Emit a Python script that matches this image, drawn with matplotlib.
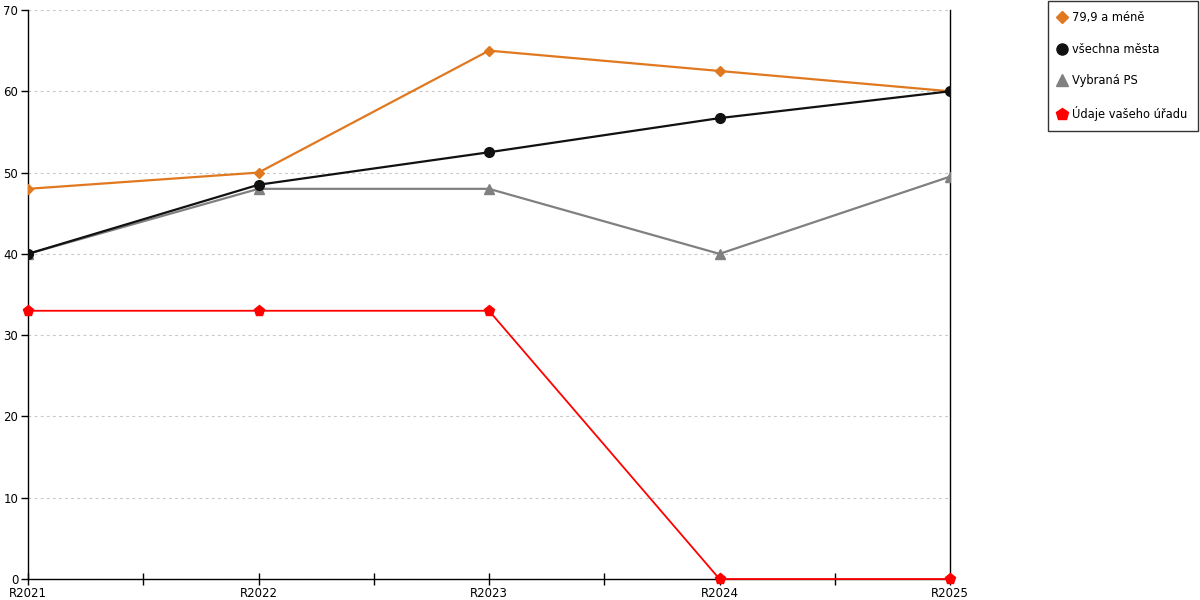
import numpy as np
import matplotlib.pyplot as plt
from matplotlib.lines import Line2D

years = ["R2021", "R2022", "R2023", "R2024", "R2025"]
mene = [48, 50, 65, 62.5, 60]
vsechna = [40, 48.5, 52.5, 56.7, 60]
vybrana = [40, 48, 48, 40, 49.5]
urad = [33, 33, 33, 0, 0]

plt.rcParams['font.family'] = ['DejaVu Sans']

fig = plt.figure(figsize=(12, 6), dpi=100)
ax = fig.add_axes([28 / 1200, 21 / 600, 922 / 1200, 569 / 600])

x = np.arange(len(years))
ax.plot(x, mene, color="#e07820", lw=1.6, marker="D", ms=5.5, label="79,9 a méně", zorder=3)
ax.plot(x, vsechna, color="#111111", lw=1.6, marker="o", ms=7, label="všechna města", zorder=4)
ax.plot(x, vybrana, color="#808080", lw=1.6, marker="^", ms=7, label="Vybraná PS", zorder=3)
ax.plot(x, urad, color="#ff0000", lw=1.3, marker="p", ms=8, label="Údaje vašeho úřadu", zorder=5, clip_on=False)

ax.set_xlim(0, len(years) - 1)
ax.set_ylim(0, 70)
ax.set_yticks(range(0, 71, 10))
ax.set_xticks(x)
ax.set_xticklabels(years)
ax.set_xticks(np.arange(0.5, len(years) - 1, 1), minor=True)
ax.tick_params(axis="x", which="both", direction="inout", length=8, width=1, labelsize=8.5, pad=2)
ax.tick_params(axis="y", direction="out", length=5, width=1, labelsize=8.5, pad=2)
ax.grid(axis="y", color="#c8c8c8", linestyle=(0, (2.5, 3)), lw=0.8)
ax.spines["top"].set_visible(False)
for s in ["left", "right", "bottom"]:
    ax.spines[s].set_color("black")
    ax.spines[s].set_linewidth(1)

handles = [
    Line2D([], [], color="#e07820", marker="D", ms=6, lw=0),
    Line2D([], [], color="#111111", marker="o", ms=8, lw=0),
    Line2D([], [], color="#808080", marker="^", ms=8, lw=0),
    Line2D([], [], color="#ff0000", marker="p", ms=9, lw=0),
]
labels = ["79,9 a méně", "všechna města", "Vybraná PS", "Údaje vašeho úřadu"]
leg = fig.legend(handles, labels, loc="upper right", bbox_to_anchor=(1198 / 1200, 1 - 1 / 600),
                 fontsize=8.3, frameon=True, fancybox=False, edgecolor="black",
                 handlelength=0.6, handletextpad=0.6, labelspacing=1.6,
                 borderpad=0.9, borderaxespad=0)
leg.get_frame().set_linewidth(1)

fig.savefig("out.png", dpi=100)
